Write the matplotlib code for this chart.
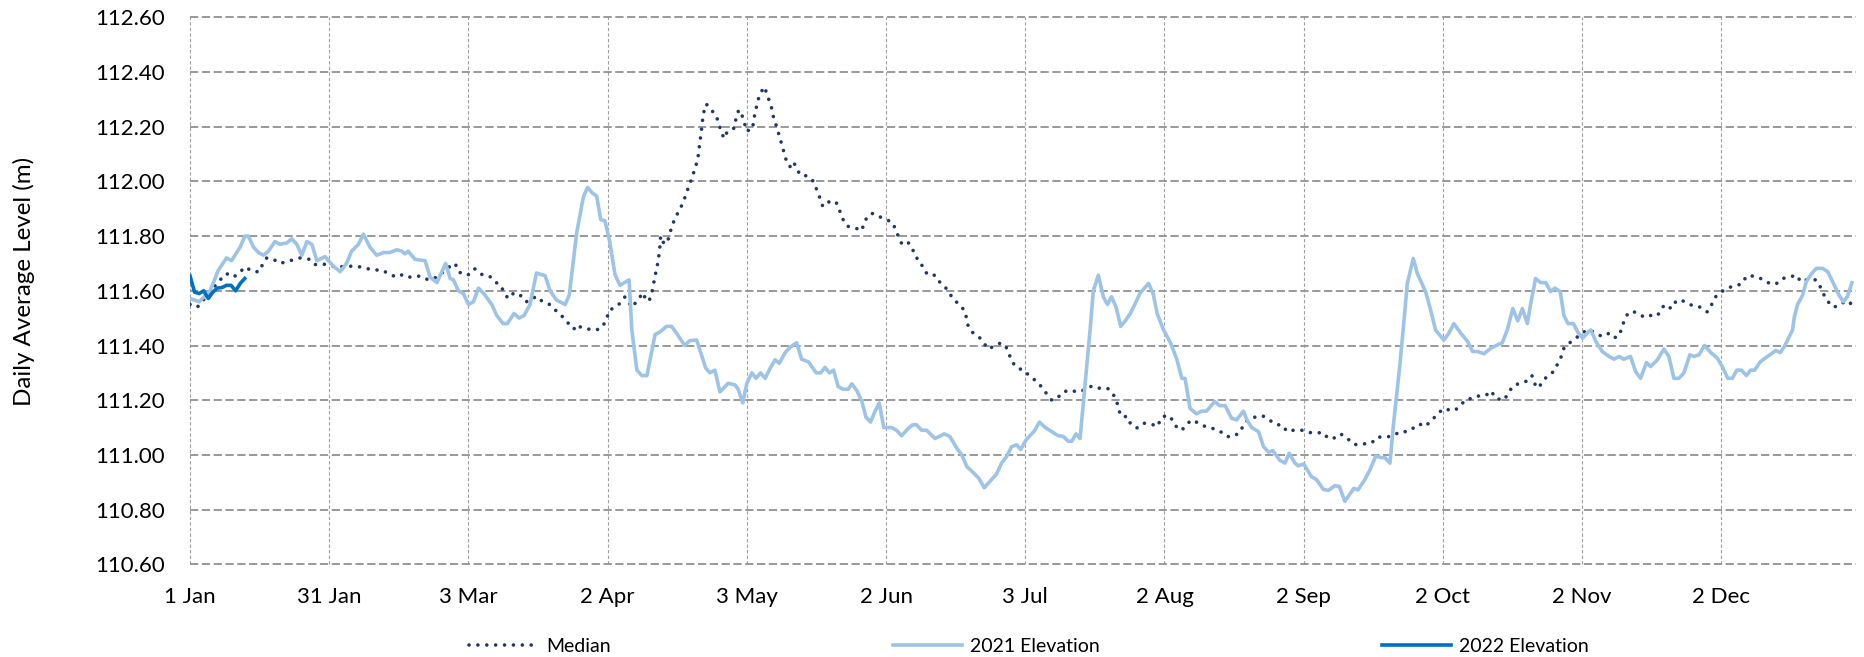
import matplotlib
matplotlib.use("Agg")
import matplotlib.pyplot as plt
from matplotlib.lines import Line2D

plt.rcParams['font.family'] = ['Lato', 'DejaVu Sans']

# ---------------- data (day of year, 0 = 1 Jan) ----------------
tick_labels = ["1 Jan", "31 Jan", "3 Mar", "2 Apr", "3 May", "2 Jun", "3 Jul",
               "2 Aug", "2 Sep", "2 Oct", "2 Nov", "2 Dec"]
tick_days = [0, 30.5, 61, 91.5, 122, 152.5, 183, 213.5, 244, 274.5, 305, 335.5]

median_days = [0, 1.6, 4.4, 6.6, 8, 9.5, 10.8, 12, 13.9, 15.2, 15.7, 16.8, 18.3, 19.7, 21.9, 24.1,
               26.3, 27.4, 29.6, 31.4, 32.9, 35.4, 37.6, 39.1, 40.5, 42, 43.5, 45.2, 46.7, 48.2,
               50.4, 52.2, 54.1, 55.2, 57, 58.1, 58.8, 60.3, 61.3, 62.4, 63.9, 65.6, 66.8, 68.1,
               68.8, 69.7, 71, 72.3, 73.6, 74.6, 75.8, 77, 78.5, 80, 81.2, 82.4, 83.4, 84.1, 84.7,
               85.8, 87.3, 88.9, 90.2, 91.1, 91.9, 92.9, 94.2, 95.3, 96.8, 97.5, 98.6, 99.3, 99.9,
               100.6, 101.2, 101.5, 102.2, 102.6, 103, 103.1, 103.9, 104.8, 105.3, 105.9, 106.6,
               107.4, 108.2, 108.8, 109.4, 110.1, 110.6, 111.2, 111.4, 111.7, 111.9, 112.1, 112.3,
               112.6, 113.1, 114.1, 115.2, 115.8, 116.3, 117, 117.6, 118.7, 119.4, 119.6, 120.2,
               120.5, 121.1, 121.6, 122.2, 122.7, 123.3, 123.6, 124, 124.3, 124.9, 125.8, 126.3,
               126.9, 127.4, 127.8, 128.4, 128.9, 129.4, 129.9, 130.4, 130.9, 131.5, 132.2, 132.9,
               133.7, 135.3, 136.6, 137.3, 137.9, 138.6, 139.3, 140.2, 141.7, 142.4, 143.1, 144,
               145.7, 147.2, 147.7, 148.6, 149.6, 151.2, 152.6, 153.9, 154.7, 155.4, 156.1, 157.4,
               158.3, 158.8, 160.1, 160.7, 161.8, 163.2, 164.2, 165.4, 166.5, 167.4, 168.6, 169.8,
               170.5, 171.6, 173.1, 174.9, 176.4, 177.7, 178.8, 180.2, 181.3, 182.7, 184, 185.4,
               186.6, 187.7, 188.8, 190, 191.2, 192.9, 194.3, 195.9, 197.6, 199.2, 201, 202.2, 203,
               203.4, 204.1, 205.4, 206, 207.4, 208.9, 210.5, 212, 212.7, 214, 215.3, 216.2, 217.3,
               218.4, 219.5, 220.7, 222.4, 224.2, 225.8, 227.1, 228.6, 230.2, 230.8, 231.9, 233.3,
               235, 236.6, 238.1, 239.2, 240.4, 241.7, 243.6, 245, 246.8, 248.2, 249.4, 250.5, 252,
               253.4, 254.5, 255.6, 257.1, 258.9, 260.1, 262, 263.6, 265.1, 266.7, 268, 269.3,
               270.7, 272, 273.3, 274.4, 275.8, 277.1, 278.4, 279.7, 281.3, 282.9, 284.1, 285.1,
               286, 287.8, 288.8, 289.7, 291, 292.9, 294, 294.5, 295.4, 296.5, 297.5, 298.8, 299.7,
               300.5, 301, 302.3, 303, 304.7, 306, 307.6, 309.1, 310.6, 311.8, 313.1, 314.2, 315,
               316.2, 317.5, 318.6, 319.7, 320.6, 321.6, 322.6, 323.3, 324.5, 325.5, 326.5, 327.9,
               329.4, 331, 332.4, 333.3, 334.1, 335.5, 337, 338.6, 340.1, 341, 342.6, 344.1, 345.6,
               347.4, 348.9, 350.3, 352, 352.9, 354.2, 356.2, 357.1, 357.8, 358.9, 360, 361.5,
               362.7, 363.8, 364.9]
median_level = [111.55, 111.54, 111.596, 111.64, 111.663, 111.65, 111.665, 111.687, 111.67, 111.67,
                111.69, 111.72, 111.715, 111.70, 111.71, 111.72, 111.715, 111.696, 111.697, 111.69,
                111.688, 111.69, 111.687, 111.68, 111.676, 111.676, 111.663, 111.65, 111.66, 111.65,
                111.654, 111.64, 111.65, 111.665, 111.69, 111.70, 111.67, 111.657, 111.66, 111.68,
                111.66, 111.654, 111.633, 111.62, 111.593, 111.572, 111.593, 111.585, 111.56,
                111.564, 111.58, 111.564, 111.554, 111.53, 111.513, 111.49, 111.472, 111.46,
                111.476, 111.465, 111.46, 111.456, 111.465, 111.49, 111.53, 111.537, 111.554,
                111.578, 111.54, 111.554, 111.578, 111.593, 111.564, 111.564, 111.593, 111.62,
                111.68, 111.71, 111.77, 111.80, 111.77, 111.79, 111.82, 111.85, 111.876, 111.90,
                111.93, 111.96, 111.987, 112.017, 112.048, 112.076, 112.102, 112.14, 112.166,
                112.194, 112.224, 112.255, 112.283, 112.263, 112.243, 112.215, 112.185, 112.157,
                112.178, 112.185, 112.20, 112.23, 112.26, 112.26, 112.234, 112.206, 112.182,
                112.20, 112.20, 112.234, 112.263, 112.29, 112.32, 112.346, 112.325, 112.295,
                112.27, 112.237, 112.206, 112.178, 112.15, 112.12, 112.09, 112.062, 112.054,
                112.072, 112.048, 112.023, 112.02, 112.00, 111.97, 111.944, 111.91, 111.91, 111.93,
                111.92, 111.89, 111.86, 111.836, 111.83, 111.82, 111.85, 111.876, 111.883, 111.87,
                111.86, 111.85, 111.82, 111.79, 111.767, 111.775, 111.754, 111.727, 111.705,
                111.677, 111.657, 111.657, 111.633, 111.615, 111.588, 111.566, 111.55, 111.525,
                111.47, 111.445, 111.427, 111.387, 111.40, 111.41, 111.394, 111.338, 111.317,
                111.31, 111.287, 111.27, 111.248, 111.223, 111.20, 111.207, 111.23, 111.237, 111.23,
                111.237, 111.252, 111.244, 111.244, 111.223, 111.20, 111.167, 111.14, 111.14,
                111.116, 111.098, 111.116, 111.113, 111.104, 111.134, 111.146, 111.128, 111.10,
                111.09, 111.113, 111.128, 111.118, 111.104, 111.096, 111.085, 111.067, 111.067,
                111.085, 111.113, 111.13, 111.138, 111.143, 111.126, 111.11, 111.11, 111.085,
                111.09, 111.09, 111.082, 111.08, 111.082, 111.06, 111.06, 111.077, 111.065,
                111.043, 111.037, 111.04, 111.044, 111.065, 111.065, 111.07, 111.085, 111.085,
                111.098, 111.113, 111.104, 111.128, 111.146, 111.168, 111.165, 111.162, 111.183,
                111.204, 111.207, 111.22, 111.22, 111.234, 111.207, 111.20, 111.223, 111.25, 111.26,
                111.27, 111.29, 111.262, 111.244, 111.272, 111.29, 111.305, 111.335, 111.362,
                111.39, 111.41, 111.42, 111.44, 111.457, 111.45, 111.435, 111.445, 111.427, 111.435,
                111.49, 111.517, 111.525, 111.512, 111.505, 111.512, 111.505, 111.512, 111.54,
                111.55, 111.535, 111.56, 111.568, 111.556, 111.544, 111.54, 111.523, 111.547,
                111.576, 111.596, 111.612, 111.617, 111.627, 111.654, 111.654, 111.645, 111.63,
                111.624, 111.645, 111.65, 111.657, 111.633, 111.64, 111.64, 111.617, 111.59,
                111.56, 111.54, 111.547, 111.564, 111.554, 111.568]

elev2021_days = [0, 2, 4.4, 6.2, 8, 9.1, 11, 12, 12.8, 13.9, 15, 16.1, 17.2, 18.6, 19.7, 21.2, 22.3,
                 23.4, 24.5, 25.6, 26.7, 27.8, 29.6, 31.4, 32.9, 34.3, 35.4, 36.9, 38, 39.4, 40.9,
                 42.4, 43.8, 45.3, 46.4, 47.1, 47.8, 49.3, 51.5, 52.6, 54.1, 55.2, 56, 57, 57.7,
                 58.8, 59.9, 61, 62.1, 63.2, 64.6, 66.1, 67.2, 68.6, 69.5, 71, 72.1, 73.2, 74.5,
                 75.9, 77.8, 78.9, 80.3, 82.2, 83.1, 84.7, 86.2, 87.1, 88, 89.1, 90, 90.9, 91.9,
                 93.1, 94.2, 96.2, 96.8, 97.9, 99, 100.1, 101.9, 103, 104.4, 105.5, 106.6, 108.4,
                 109.5, 111, 113, 113.9, 115, 116.1, 117.9, 119.4, 120.1, 121.1, 122, 123.1, 124,
                 125, 126, 127.1, 128.2, 129.1, 130.4, 131.5, 132.9, 134, 135.5, 137.2, 138.2,
                 139.1, 140.1, 141, 142, 143.1, 144.2, 145, 146.1, 147.2, 148.1, 149.1, 150.1, 151,
                 152, 153.7, 154.8, 155.9, 157.2, 158.3, 159.2, 160.3, 161.4, 163.2, 164.5, 165.2,
                 166.5, 168, 169.1, 170.2, 171.3, 172.8, 174, 175.1, 176.7, 177.8, 178.9, 180,
                 181.1, 182, 183.2, 184.4, 185.1, 186.1, 187.4, 188.8, 190.2, 191.3, 192.4, 193.2,
                 194.1, 195, 196, 197.2, 197.9, 199, 200.1, 201, 201.9, 202.9, 203.9, 204.9, 206,
                 207, 208.1, 210, 211, 211.9, 213.2, 214.8, 216.2, 217.3, 218, 219.1, 220.5, 221.6,
                 222.7, 224.5, 225.6, 226.8, 228.2, 229.3, 230.8, 231.5, 232.6, 234.1, 235.2, 236.3,
                 237.2, 238.8, 239.9, 240.8, 242.1, 242.8, 244, 245.7, 246.8, 248.3, 249.4, 250.8,
                 251.8, 253, 254, 255, 255.9, 257.4, 258.5, 259.8, 261, 261.8, 262.9, 263.6, 264.5,
                 265.1, 265.8, 266.7, 268, 268.9, 270.7, 271.8, 272.9, 274.7, 275.8, 276.9, 278.4,
                 279.9, 281, 282.1, 283.5, 285, 286.4, 287.5, 288.6, 289.8, 290.9, 291.9, 293,
                 293.7, 294.8, 295.9, 297, 298.1, 299, 300.2, 301, 301.9, 303.1, 304, 305.1, 306.1,
                 306.9, 308, 309.4, 310.9, 312, 313.1, 314.1, 315.6, 316.7, 317.8, 319.1, 320,
                 321.5, 322.9, 324, 325.1, 326.2, 327.3, 328.6, 329.5, 330.6, 331.8, 333.2, 334.6,
                 335.7, 336.9, 337.9, 338.9, 339.9, 341, 341.9, 342.8, 344, 345.6, 346.5, 347.4,
                 348.4, 349.3, 350.4, 351.1, 351.5, 352.2, 353.3, 354.1, 355.2, 356.3, 357.7,
                 358.8, 359.9, 361.1, 362.2, 363.1, 364.1]
elev2021_level = [111.572, 111.56, 111.60, 111.675, 111.72, 111.71, 111.76, 111.80, 111.80, 111.76,
                  111.74, 111.73, 111.745, 111.78, 111.77, 111.775, 111.79, 111.77, 111.73, 111.78,
                  111.77, 111.71, 111.725, 111.69, 111.67, 111.70, 111.745, 111.77, 111.807, 111.76,
                  111.73, 111.74, 111.74, 111.75, 111.745, 111.735, 111.745, 111.715, 111.71, 111.65,
                  111.63, 111.67, 111.70, 111.645, 111.64, 111.60, 111.59, 111.55, 111.56, 111.61,
                  111.585, 111.55, 111.51, 111.48, 111.48, 111.517, 111.50, 111.51, 111.55, 111.665,
                  111.655, 111.60, 111.566, 111.55, 111.585, 111.81, 111.944, 111.978, 111.96,
                  111.946, 111.86, 111.856, 111.785, 111.66, 111.62, 111.64, 111.457, 111.31, 111.29,
                  111.29, 111.44, 111.45, 111.47, 111.47, 111.445, 111.40, 111.418, 111.42, 111.317,
                  111.30, 111.31, 111.23, 111.262, 111.256, 111.24, 111.19, 111.262, 111.30, 111.28,
                  111.30, 111.28, 111.317, 111.348, 111.335, 111.374, 111.394, 111.41, 111.35,
                  111.34, 111.30, 111.30, 111.32, 111.30, 111.31, 111.25, 111.24, 111.24, 111.26,
                  111.235, 111.195, 111.138, 111.12, 111.16, 111.19, 111.10, 111.10, 111.09, 111.07,
                  111.094, 111.11, 111.11, 111.09, 111.09, 111.06, 111.07, 111.077, 111.067,
                  111.024, 111.00, 110.957, 110.94, 110.915, 110.88, 110.90, 110.93, 110.97,
                  110.994, 111.03, 111.037, 111.02, 111.055, 111.077, 111.09, 111.12, 111.10,
                  111.085, 111.07, 111.068, 111.05, 111.05, 111.077, 111.06, 111.24, 111.457,
                  111.60, 111.657, 111.578, 111.55, 111.578, 111.54, 111.47, 111.49, 111.517,
                  111.55, 111.59, 111.627, 111.59, 111.517, 111.46, 111.41, 111.35, 111.28, 111.28,
                  111.17, 111.15, 111.16, 111.16, 111.195, 111.18, 111.18, 111.134, 111.128,
                  111.16, 111.13, 111.10, 111.085, 111.03, 111.01, 111.016, 110.98, 110.97,
                  111.006, 110.97, 110.96, 110.967, 110.92, 110.91, 110.874, 110.87, 110.887,
                  110.885, 110.83, 110.854, 110.878, 110.872, 110.91, 110.945, 110.996, 110.99,
                  110.99, 110.97, 111.10, 111.24, 111.335, 111.46, 111.627, 111.718, 111.663,
                  111.597, 111.53, 111.456, 111.42, 111.445, 111.48, 111.445, 111.415, 111.378,
                  111.378, 111.37, 111.39, 111.402, 111.41, 111.457, 111.535, 111.49, 111.535,
                  111.48, 111.55, 111.645, 111.63, 111.63, 111.597, 111.61, 111.597, 111.51, 111.48,
                  111.48, 111.45, 111.427, 111.445, 111.457, 111.415, 111.378, 111.36, 111.35,
                  111.36, 111.35, 111.36, 111.305, 111.28, 111.338, 111.323, 111.348, 111.387,
                  111.36, 111.28, 111.28, 111.30, 111.366, 111.36, 111.366, 111.40, 111.374,
                  111.354, 111.323, 111.28, 111.28, 111.31, 111.31, 111.29, 111.31, 111.31, 111.34,
                  111.36, 111.37, 111.382, 111.374, 111.396, 111.433, 111.457, 111.505, 111.55,
                  111.584, 111.633, 111.661, 111.682, 111.682, 111.67, 111.633, 111.59, 111.56,
                  111.578, 111.63]

elev2022_days = [0, 1, 2, 3, 4, 5, 6, 7, 8, 9, 10, 11, 12]
elev2022_level = [111.655, 111.595, 111.59, 111.60, 111.572, 111.595, 111.61, 111.612, 111.62,
                  111.62, 111.60, 111.627, 111.645]

# ---------------- figure ----------------
W, H = 1864, 657
fig = plt.figure(figsize=(W / 100, H / 100), dpi=100)
ax = fig.add_axes([190 / W, 1 - 564.3 / H, (1856 - 190) / W, (564.3 - 17.3) / H])

c_med = '#203864'
c_21 = '#9DC3E6'
c_22 = '#0070C0'

ax.plot(median_days, median_level, color=c_med, lw=2.6, linestyle=(0, (0.01, 2.45)),
        dash_capstyle='round', label='Median', zorder=3)
ax.plot(elev2021_days, elev2021_level, color=c_21, lw=2.6, solid_joinstyle='round',
        label='2021 Elevation', zorder=4)
ax.plot(elev2022_days, elev2022_level, color=c_22, lw=2.6, solid_joinstyle='round',
        label='2022 Elevation', zorder=5)

ax.set_xlim(0, 365)
ax.set_ylim(110.6, 112.6)
ax.set_xticks(tick_days)
ax.set_xticklabels(tick_labels)
yt = [110.6 + 0.2 * i for i in range(11)]
ax.set_yticks(yt)
ax.set_yticklabels([f"{v:.2f}" for v in yt])
ax.tick_params(axis='both', length=0, labelsize=16, colors='black')
ax.tick_params(axis='y', pad=18)
ax.tick_params(axis='x', pad=16)

for s in ax.spines.values():
    s.set_visible(False)

ax.grid(axis='y', color='#959595', lw=1.35, linestyle=(0, (4.4, 1.9)), zorder=1)
ax.grid(axis='x', color='#a0a0a0', lw=0.8, linestyle=(0, (3, 2)), zorder=1)
ax.set_axisbelow(True)
for gl in ax.get_ygridlines() + ax.get_xgridlines():
    gl.set_clip_on(False)

fig.text(24 / W, 1 - 281 / H, 'Daily Average Level (m)', rotation=90,
         ha='center', va='center', fontsize=17.4)

handles = [
    Line2D([], [], color=c_med, lw=2.6, linestyle=(0, (0.01, 2.45)), dash_capstyle='round'),
    Line2D([], [], color=c_21, lw=2.6),
    Line2D([], [], color=c_22, lw=2.6),
]
fig.legend(handles, ['Median', '2021 Elevation', '2022 Elevation'], loc='center',
           bbox_to_anchor=(1029 / W, 1 - 646 / H), ncol=3, frameon=False, fontsize=14,
           handlelength=3.55, handletextpad=0.42, columnspacing=14.5, borderpad=0,
           borderaxespad=0)

fig.savefig('out.png', dpi=100)
